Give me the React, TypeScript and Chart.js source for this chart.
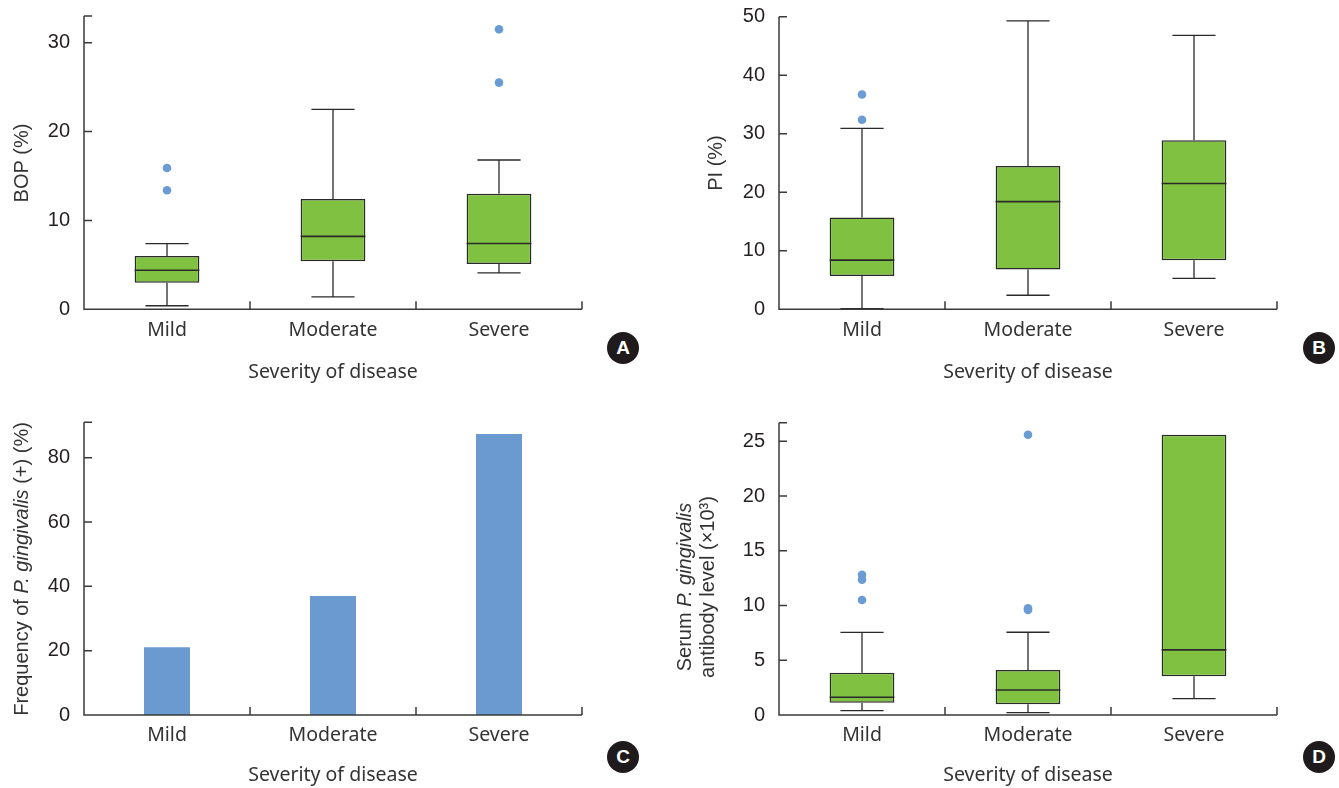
import React, { useEffect, useRef } from "react";
import { Chart, registerables } from "chart.js";

Chart.register(...registerables);

// ---------- data ----------
const categories = ["Mild", "Moderate", "Severe"];

// Panel A: BOP (%)
const bopLower = [0.4, 1.4, 4.1];
const bopQ1 = [3.0, 5.4, 5.1];
const bopMedian = [4.4, 8.2, 7.4];
const bopQ3 = [6.0, 12.4, 13.0];
const bopUpper = [7.4, 22.5, 16.8];
const bopOutliers = [[15.9, 13.4], [], [31.5, 25.5]];
const bopTicks = [0, 10, 20, 30];

// Panel B: PI (%)
const piLower = [0.1, 2.4, 5.3];
const piQ1 = [5.7, 6.8, 8.4];
const piMedian = [8.4, 18.4, 21.5];
const piQ3 = [15.7, 24.5, 28.9];
const piUpper = [30.9, 49.3, 46.8];
const piOutliers = [[36.7, 32.4], [], []];
const piTicks = [0, 10, 20, 30, 40, 50];

// Panel C: frequency of P. gingivalis (+) (%)
const pgFrequency = [21.1, 37.0, 87.4];
const pgTicks = [0, 20, 40, 60, 80];

// Panel D: serum antibody level (x10^3)
const abLower = [0.4, 0.21, 1.49];
const abQ1 = [1.13, 0.98, 3.54];
const abMedian = [1.62, 2.29, 5.95];
const abQ3 = [3.87, 4.12, 25.6];
const abUpper = [7.55, 7.56, 25.6];
const abOutliers = [[12.8, 12.35, 10.5], [25.6, 9.75, 9.6], []];
const abTicks = [0, 5, 10, 15, 20, 25];

const xTitle = "Severity of disease";

// ---------- styles ----------
const GREEN = "#80c141";
const BOX_EDGE = "#2a2a2a";
const BLUE_POINT = "#6b9bd5";
const BLUE_BAR = "#6b9ad0";
const AXIS = "#3a3a3a";
const TEXT = "#231f20";
const LABEL_TEXT = "#333333";
const NUM_FONT = "'Liberation Sans', Arial, sans-serif";
const CAT_FONT = "'Noto Sans', 'Open Sans', sans-serif";

type Seg = { text: string; italic?: boolean };

type BoxData = {
  lower: number[];
  q1: number[];
  median: number[];
  q3: number[];
  upper: number[];
  outliers: number[][];
};

type Panel = {
  id: string;
  badge: string;
  left: number;
  top: number;
  width: number;
  height: number;
  area: { left: number; right: number; top: number; bottom: number };
  yMax: number;
  yTicks: number[];
  box?: BoxData;
  bars?: number[];
  titleLines: Seg[][];
  titleXs: number[];
  titleCY: number;
  xTitlePad: number;
  badgeX: number;
  badgeY: number;
};

const panels: Panel[] = [
  {
    id: "A",
    badge: "A",
    left: 0,
    top: 0,
    width: 670,
    height: 394,
    area: { left: 84, right: 582, top: 16, bottom: 309.3 },
    yMax: 33,
    yTicks: bopTicks,
    box: { lower: bopLower, q1: bopQ1, median: bopMedian, q3: bopQ3, upper: bopUpper, outliers: bopOutliers },
    titleLines: [[{ text: "BOP (%)" }]],
    titleXs: [22],
    titleCY: 163,
    xTitlePad: 10,
    badgeX: 623,
    badgeY: 348,
  },
  {
    id: "B",
    badge: "B",
    left: 670,
    top: 0,
    width: 669,
    height: 394,
    area: { left: 109, right: 607, top: 16.7, bottom: 309.3 },
    yMax: 50,
    yTicks: piTicks,
    box: { lower: piLower, q1: piQ1, median: piMedian, q3: piQ3, upper: piUpper, outliers: piOutliers },
    titleLines: [[{ text: "PI (%)" }]],
    titleXs: [46],
    titleCY: 163,
    xTitlePad: 10,
    badgeX: 1319,
    badgeY: 348,
  },
  {
    id: "C",
    badge: "C",
    left: 0,
    top: 394,
    width: 670,
    height: 394,
    area: { left: 84, right: 582, top: 28.3, bottom: 321 },
    yMax: 91,
    yTicks: pgTicks,
    bars: pgFrequency,
    titleLines: [[
      { text: "Frequency of " },
      { text: "P. gingivalis", italic: true },
      { text: " (+) (%)" },
    ]],
    titleXs: [22],
    titleCY: 175,
    xTitlePad: 1,
    badgeX: 623,
    badgeY: 757,
  },
  {
    id: "D",
    badge: "D",
    left: 670,
    top: 394,
    width: 669,
    height: 394,
    area: { left: 109, right: 607, top: 28.7, bottom: 321 },
    yMax: 26.7,
    yTicks: abTicks,
    box: { lower: abLower, q1: abQ1, median: abMedian, q3: abQ3, upper: abUpper, outliers: abOutliers },
    titleLines: [
      [{ text: "Serum " }, { text: "P. gingivalis", italic: true }],
      [{ text: "antibody level (\u00d710\u00b3)" }],
    ],
    titleXs: [15, 38],
    titleCY: 193,
    xTitlePad: 1,
    badgeX: 1319,
    badgeY: 757,
  },
];

function drawRich(ctx: CanvasRenderingContext2D, segs: Seg[], cx: number, cy: number) {
  const size = 20;
  ctx.save();
  ctx.translate(cx, cy);
  ctx.rotate(-Math.PI / 2);
  ctx.fillStyle = LABEL_TEXT;
  ctx.textBaseline = "middle";
  ctx.textAlign = "left";
  const fonts = segs.map((s) => `${s.italic ? "italic " : ""}${size}px ${NUM_FONT}`);
  let total = 0;
  const widths = segs.map((s, i) => {
    ctx.font = fonts[i];
    const w = ctx.measureText(s.text).width;
    total += w;
    return w;
  });
  let x = -total / 2;
  segs.forEach((s, i) => {
    ctx.font = fonts[i];
    ctx.fillText(s.text, x, 0);
    x += widths[i];
  });
  ctx.restore();
}

function makeChart(canvas: HTMLCanvasElement, p: Panel): Chart {
  const datasets: any[] = [];
  if (p.box) {
    const b = p.box;
    datasets.push({
      type: "bar",
      data: categories.map((_, i) => [b.q1[i], b.q3[i]]),
      backgroundColor: GREEN,
      borderColor: BOX_EDGE,
      borderWidth: 1.5,
      borderSkipped: false,
      barPercentage: 0.39,
      categoryPercentage: 1,
      order: 2,
    });
    const pts: { x: string; y: number }[] = [];
    b.outliers.forEach((arr, i) => arr.forEach((v) => pts.push({ x: categories[i], y: v })));
    datasets.push({
      type: "line",
      data: pts,
      showLine: false,
      pointRadius: 4.3,
      pointBackgroundColor: BLUE_POINT,
      pointBorderWidth: 0,
      borderColor: BLUE_POINT,
      order: 1,
    });
  } else if (p.bars) {
    datasets.push({
      type: "bar",
      data: p.bars,
      backgroundColor: BLUE_BAR,
      borderWidth: 0,
      barPercentage: 0.277,
      categoryPercentage: 1,
    });
  }

  const boxPlugin = {
    id: "boxWhiskers" + p.id,
    afterDatasetsDraw(chart: any) {
      if (!p.box) return;
      const b = p.box;
      const ctx = chart.ctx as CanvasRenderingContext2D;
      const y = chart.scales.y;
      const meta = chart.getDatasetMeta(0);
      ctx.save();
      ctx.strokeStyle = BOX_EDGE;
      ctx.lineCap = "butt";
      meta.data.forEach((el: any, i: number) => {
        const x = el.x;
        const w = el.width;
        const cap = w / 3;
        const yl = y.getPixelForValue(b.lower[i]);
        const yq1 = y.getPixelForValue(b.q1[i]);
        const yq3 = y.getPixelForValue(b.q3[i]);
        const yu = y.getPixelForValue(b.upper[i]);
        const ym = y.getPixelForValue(b.median[i]);
        ctx.lineWidth = 1.3;
        ctx.beginPath();
        if (b.upper[i] > b.q3[i]) {
          ctx.moveTo(x, yq3);
          ctx.lineTo(x, yu);
          ctx.moveTo(x - cap, yu);
          ctx.lineTo(x + cap, yu);
        }
        if (b.lower[i] < b.q1[i]) {
          ctx.moveTo(x, yq1);
          ctx.lineTo(x, yl);
          ctx.moveTo(x - cap, yl);
          ctx.lineTo(x + cap, yl);
        }
        ctx.stroke();
        ctx.lineWidth = 1.6;
        ctx.beginPath();
        ctx.moveTo(x - w / 2, ym);
        ctx.lineTo(x + w / 2, ym);
        ctx.stroke();
      });
      ctx.restore();
    },
  };

  const axisPlugin = {
    id: "axes" + p.id,
    afterDraw(chart: any) {
      const ctx = chart.ctx as CanvasRenderingContext2D;
      const a = chart.chartArea;
      const xs = chart.scales.x;
      const ys = chart.scales.y;
      const tl = 8;
      ctx.save();
      ctx.strokeStyle = AXIS;
      ctx.lineWidth = 1.5;
      ctx.beginPath();
      ctx.moveTo(a.left, a.top);
      ctx.lineTo(a.left, a.bottom);
      ctx.lineTo(a.right, a.bottom);
      // y ticks (inward)
      p.yTicks.forEach((v) => {
        if (v === 0) return;
        const py = ys.getPixelForValue(v);
        ctx.moveTo(a.left, py);
        ctx.lineTo(a.left + tl, py);
      });
      ctx.moveTo(a.left, a.top);
      ctx.lineTo(a.left + tl, a.top);
      // x category boundary ticks (inward)
      for (let i = 1; i <= categories.length; i++) {
        const px = xs.getPixelForValue(i - 0.5);
        ctx.moveTo(px, a.bottom);
        ctx.lineTo(px, a.bottom - tl);
      }
      ctx.stroke();
      ctx.restore();
      // y titles
      p.titleLines.forEach((line, i) => drawRich(ctx, line, p.titleXs[i], p.titleCY));
    },
  };

  return new Chart(canvas, {
    type: "bar",
    data: { labels: categories, datasets },
    options: {
      animation: false,
      responsive: false,
      maintainAspectRatio: false,
      devicePixelRatio: 1,
      layout: {
        padding: { left: 0, top: p.area.top, right: p.width - p.area.right, bottom: 0 },
      },
      plugins: { legend: { display: false }, tooltip: { enabled: false } },
      scales: {
        x: {
          type: "category",
          offset: true,
          grid: { display: false, drawTicks: false },
          border: { display: false },
          ticks: {
            color: LABEL_TEXT,
            font: { family: CAT_FONT, size: 19.5 },
            padding: 9,
            maxRotation: 0,
            autoSkip: false,
          },
          title: {
            display: true,
            text: xTitle,
            color: LABEL_TEXT,
            font: { family: CAT_FONT, size: 19.5 },
            padding: { top: 0, bottom: p.xTitlePad },
          },
          afterFit: (s: any) => {
            s.height = p.height - p.area.bottom;
            s.paddingLeft = 0;
            s.paddingRight = 0;
          },
        },
        y: {
          type: "linear",
          min: 0,
          max: p.yMax,
          grid: { display: false, drawTicks: false },
          border: { display: false },
          ticks: {
            color: TEXT,
            font: { family: NUM_FONT, size: 20 },
            padding: 14,
          },
          afterBuildTicks: (s: any) => {
            s.ticks = p.yTicks.map((v) => ({ value: v }));
          },
          afterFit: (s: any) => {
            s.width = p.area.left;
            s.paddingTop = 0;
            s.paddingBottom = 0;
          },
        },
      },
    } as any,
    plugins: [boxPlugin, axisPlugin],
  });
}

function PanelChart({ p }: { p: Panel }) {
  const ref = useRef<HTMLCanvasElement | null>(null);
  useEffect(() => {
    if (!ref.current) return;
    const c = makeChart(ref.current, p);
    return () => c.destroy();
  }, [p]);
  return (
    <canvas
      ref={ref}
      width={p.width}
      height={p.height}
      style={{ position: "absolute", left: p.left, top: p.top, width: p.width, height: p.height }}
    />
  );
}

export default function App() {
  return (
    <div
      style={{
        position: "fixed",
        left: 0,
        top: 0,
        width: 1339,
        height: 788,
        background: "#ffffff",
        overflow: "hidden",
      }}
    >
      {panels.map((p) => (
        <PanelChart key={p.id} p={p} />
      ))}
      {panels.map((p) => (
        <div
          key={"badge" + p.id}
          style={{
            position: "absolute",
            left: p.badgeX - 16,
            top: p.badgeY - 16,
            width: 32,
            height: 32,
            borderRadius: "50%",
            background: "#1f1b1c",
            color: "#ffffff",
            fontFamily: NUM_FONT,
            fontWeight: 700,
            fontSize: 19,
            lineHeight: "32px",
            textAlign: "center",
          }}
        >
          {p.badge}
        </div>
      ))}
    </div>
  );
}
